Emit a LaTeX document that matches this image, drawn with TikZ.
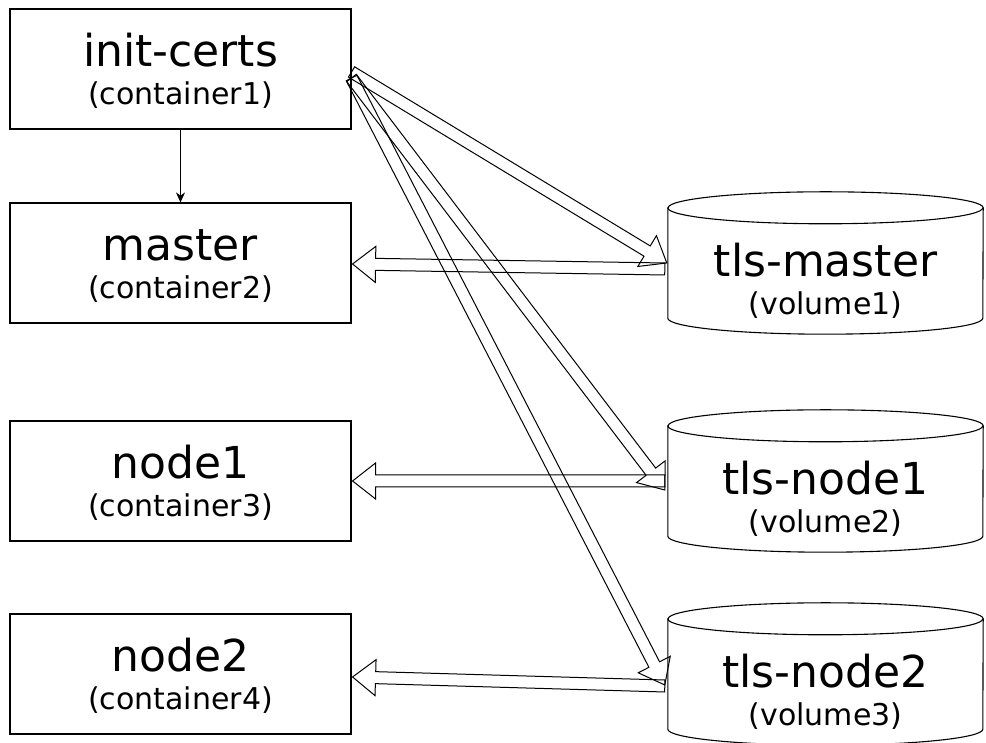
\documentclass[tikz,border=0pt]{standalone}
\usepackage{fontspec}
\setmainfont{DejaVu Sans}
\usetikzlibrary{calc,arrows.meta}

\tikzset{
  box/.style={draw, line width=1.1pt, minimum width=341pt, minimum height=120pt, inner sep=0pt},
  cylframe/.style={minimum width=315pt, minimum height=142pt, inner sep=0pt},
  cylline/.style={draw, line width=1.1pt, fill=white},
  title/.style={anchor=base, inner sep=0pt, font=\fontsize{44}{50}\selectfont},
  subtitle/.style={anchor=base, inner sep=0pt, font=\fontsize{30}{36}\selectfont},
  flexline/.style={draw, line width=1.0pt, line join=miter},
  plain/.style={draw, line width=1.1pt, -{Stealth[length=10pt,width=9pt]}},
}

% hollow block arrow from #1 to #2 (shaft 12pt, head 36pt wide, 23pt long)
\newcommand{\flexarrow}[2]{%
  \coordinate (fa-s) at #1;
  \coordinate (fa-e) at #2;
  \coordinate (fa-h) at ($(fa-e)!23pt!(fa-s)$);
  \draw[flexline]
    ($(fa-s)!6pt!90:(fa-e)$) -- ($(fa-h)!6pt!90:(fa-e)$) --
    ($(fa-h)!18pt!90:(fa-e)$) -- (fa-e) --
    ($(fa-h)!18pt!-90:(fa-e)$) -- ($(fa-h)!6pt!-90:(fa-e)$) --
    ($(fa-s)!6pt!-90:(fa-e)$) -- cycle;
}

% cylinder outline drawn over a named frame node #1
\newcommand{\volume}[1]{%
  \path[cylline]
    ($(#1.north west)+(0,-16pt)$) -- ($(#1.south west)+(0,16pt)$)
    arc[start angle=180, end angle=360, x radius=157.5pt, y radius=16pt]
    -- ($(#1.north east)+(0,-16pt)$)
    arc[start angle=0, end angle=180, x radius=157.5pt, y radius=16pt] -- cycle;
  \draw[line width=1.1pt] ($(#1.north west)+(0,-16pt)$)
    arc[start angle=180, end angle=360, x radius=157.5pt, y radius=16pt];
}

\begin{document}
\begin{tikzpicture}[x=1pt, y=1pt]
  \useasboundingbox (0,0) rectangle (986,743);
  \fill[white] (0,0) rectangle (986,743);

  % containers
  \node[box] (ic) at (180.5,674) {};
  \node[box] (ma) at (180.5,480) {};
  \node[box] (n1) at (180.5,262) {};
  \node[box] (n2) at (180.5,69) {};

  \node[title]    (ict) at ($(ic.center)+(0,2)$)   {init-certs};
  \node[subtitle] (ics) at ($(ic.center)+(0,-36)$) {(container1)};
  \node[title]    (mat) at ($(ma.center)+(0,2)$)   {master};
  \node[subtitle] (mas) at ($(ma.center)+(0,-36)$) {(container2)};
  \node[title]    (n1t) at ($(n1.center)+(0,2)$)   {node1};
  \node[subtitle] (n1s) at ($(n1.center)+(0,-36)$) {(container3)};
  \node[title]    (n2t) at ($(n2.center)+(0,2)$)   {node2};
  \node[subtitle] (n2s) at ($(n2.center)+(0,-36)$) {(container4)};

  % volumes
  \node[cylframe] (tm) at (825.5,480) {};
  \node[cylframe] (t1) at (825.5,262) {};
  \node[cylframe] (t2) at (825.5,69) {};
  \volume{tm}
  \volume{t1}
  \volume{t2}

  \node[title]    (tmt) at ($(tm.center)+(0,-14)$) {tls-master};
  \node[subtitle] (tms) at ($(tm.center)+(0,-52)$) {(volume1)};
  \node[title]    (t1t) at ($(t1.center)+(0,-14)$) {tls-node1};
  \node[subtitle] (t1s) at ($(t1.center)+(0,-52)$) {(volume2)};
  \node[title]    (t2t) at ($(t2.center)+(0,-14)$) {tls-node2};
  \node[subtitle] (t2s) at ($(t2.center)+(0,-52)$) {(volume3)};

  % init-certs starts master
  \draw[plain] (ic.south) -- (ma.north);

  % certificates written into the volumes
  \flexarrow{($(ic.east)+(0,-3)$)}{($(tm.west)+(-1,0)$)}
  \flexarrow{($(ic.east)+(0,-9)$)}{($(t1.west)+(-3,-9)$)}
  \flexarrow{($(ic.east)+(0,-9)$)}{($(t2.west)+(-3,-11)$)}

  % volumes mounted into the containers
  \flexarrow{($(tm.west)+(-3,-6)$)}{($(ma.east)+(1,-1)$)}
  \flexarrow{($(t1.west)+(-3,0)$)}{($(n1.east)+(1,0)$)}
  \flexarrow{($(t2.west)+(-3,-12)$)}{($(n2.east)+(1,-3)$)}
\end{tikzpicture}
\end{document}
